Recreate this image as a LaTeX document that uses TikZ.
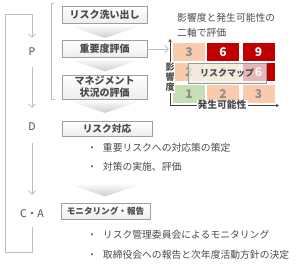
\documentclass[tikz,border=0pt]{standalone}
\usepackage{fontspec}
\setmainfont{Noto Sans CJK JP}
\usetikzlibrary{shadows,arrows.meta}
\definecolor{txt}{HTML}{4A4A4A}
\definecolor{ln}{HTML}{BDBDBD}
\definecolor{peach}{HTML}{F8CBAD}
\definecolor{rd}{HTML}{C00000}
\definecolor{grn}{HTML}{C5E0B4}
\definecolor{yel}{HTML}{FFE08A}
\definecolor{numg}{HTML}{8C8C8C}
\begin{document}
\begin{tikzpicture}[x=1pt,y=-1pt,
  stepbox/.style={draw=gray!75, top color=white, bottom color=gray!14, text=txt,
    font=\bfseries\fontsize{10}{12}\selectfont, inner sep=0pt, align=center,
    drop shadow={shadow xshift=.7pt,shadow yshift=-.7pt,opacity=.3}},
  chev/.style={top color=gray!4, bottom color=gray!38, draw=none},
  loopline/.style={draw=ln, line width=.8pt},
  looparrow/.style={loopline, -{Straight Barb[length=3.5pt,width=7pt]}},
  phase/.style={text=txt, font=\fontsize{10.5}{12}\selectfont, inner sep=0pt},
  bul/.style={text=txt, font=\fontsize{9.8}{12}\selectfont, inner sep=0pt, anchor=west},
  cell/.style={minimum width=32pt, minimum height=18pt, inner sep=0pt,
    font=\bfseries\fontsize{12}{12}\selectfont},
  axis/.style={draw=black!75, line width=.7pt, -{Stealth[length=3pt,width=3.5pt]}}
]
\useasboundingbox (0,0) rectangle (300,267);

% boxes
\node[stepbox, minimum width=85pt, minimum height=17pt] (b1) at (104.5,15) {リスク洗い出し};
\node[stepbox, minimum width=85pt, minimum height=17pt] (b2) at (104.5,49) {重要度評価};
\node[stepbox, minimum width=85pt, minimum height=24pt] (b3) at (104.5,87) {マネジメント\\状況の評価};
\node[stepbox, minimum width=90pt, minimum height=15pt, font=\bfseries\fontsize{9.7}{12}\selectfont] (b4) at (107,129) {リスク対応};
\node[stepbox, minimum width=89pt, minimum height=16pt, font=\bfseries\fontsize{8.6}{10}\selectfont] (b5) at (105.5,211.5) {モニタリング・報告};

% chevrons
\foreach \yy in {26,59.5,101,184.5}{
  \shade[chev] (70,\yy) -- (140,\yy) -- (105,\yy+12) -- cycle;
}

% bracket
\draw[loopline, line width=.6pt] (54,3) -- (51,3) -- (51,99) -- (55,99);

% phase labels
\node[phase] (P) at (32,52) {P};
\node[phase] (D) at (32,127) {D};
\node[phase] (CA) at (32,214) {C・A};

% loop
\coordinate (lb) at (5,252);
\coordinate (lt) at (5,14);
\coordinate (tt) at (32,14);
\draw[looparrow] (lt) -- (tt) -- ([yshift=10pt]P.north);
\draw[loopline] (lt) -- (lb) -- (lb -| CA.south) -- ([yshift=-9pt]CA.south);
\draw[looparrow, shorten <=11pt, shorten >=15pt] (P.south) -- (D.north);
\draw[looparrow, shorten <=12pt, shorten >=15pt] (D.south) -- (CA.north);

% bullets
\node[bul] (t1) at (87,148) {・\hspace{6pt}重要リスクへの対応策の策定};
\node[bul] (t2) at (87,167) {・\hspace{6pt}対策の実施、評価};
\node[bul] (t3) at (87,235) {・\hspace{6pt}リスク管理委員会によるモニタリング};
\node[bul] (t4) at (87,255) {・\hspace{6pt}取締役会への報告と次年度活動方針の決定};

% title
\node[bul] (h1) at (177,18) {影響度と発生可能性の};
\node[bul] (h2) at (177,33) {二軸で評価};

% grid
\node[cell, fill=peach, text=numg] (c11) at (189,52) {3};
\node[cell, fill=rd, text=white] (c12) at (223,52) {6};
\node[cell, fill=rd, text=white] (c13) at (258.5,52) {9};
\node[cell, fill=peach, text=numg] (c21) at (189,72.5) {2};
\node[cell, fill=yel, text=numg] (c22) at (223,72.5) {4};
\node[cell, fill=rd, text=white] (c23) at (258.5,72.5) {6};
\node[cell, fill=grn, text=numg] (c31) at (189,94) {1};
\node[cell, fill=peach, text=numg] (c32) at (223,94) {2};
\node[cell, fill=peach, text=numg] (c33) at (258.5,94) {3};

% arrow from b2 to grid
\draw[looparrow, shorten >=4pt] (b2.east) -- (b2.east -| c11.west);

% axes
\coordinate (o) at (170,105.5);
\coordinate (ytop) at (170,39);
\coordinate (xend) at (279,105.5);
\draw[axis] (o) -- (ytop);
\draw[axis] (o) -- (xend);
\node[fill=white, inner sep=.8pt, align=center, text=txt, font=\bfseries\fontsize{9}{10}\selectfont] (yl) at (170,77.5) {影\\響\\度};
\node[fill=white, inner xsep=1pt, inner ysep=0pt, text=txt, font=\bfseries\fontsize{9.8}{11}\selectfont] (xl) at (222,105) {発生可能性};

% overlay
\node[draw=gray!80, fill=white, fill opacity=.68, text opacity=1, text=txt,
  minimum width=78pt, minimum height=20pt, inner sep=0pt,
  font=\bfseries\fontsize{9}{10}\selectfont,
  drop shadow={shadow xshift=.7pt,shadow yshift=-.7pt,opacity=.25}] (map) at (227,73) {リスクマップ};
\end{tikzpicture}
\end{document}
